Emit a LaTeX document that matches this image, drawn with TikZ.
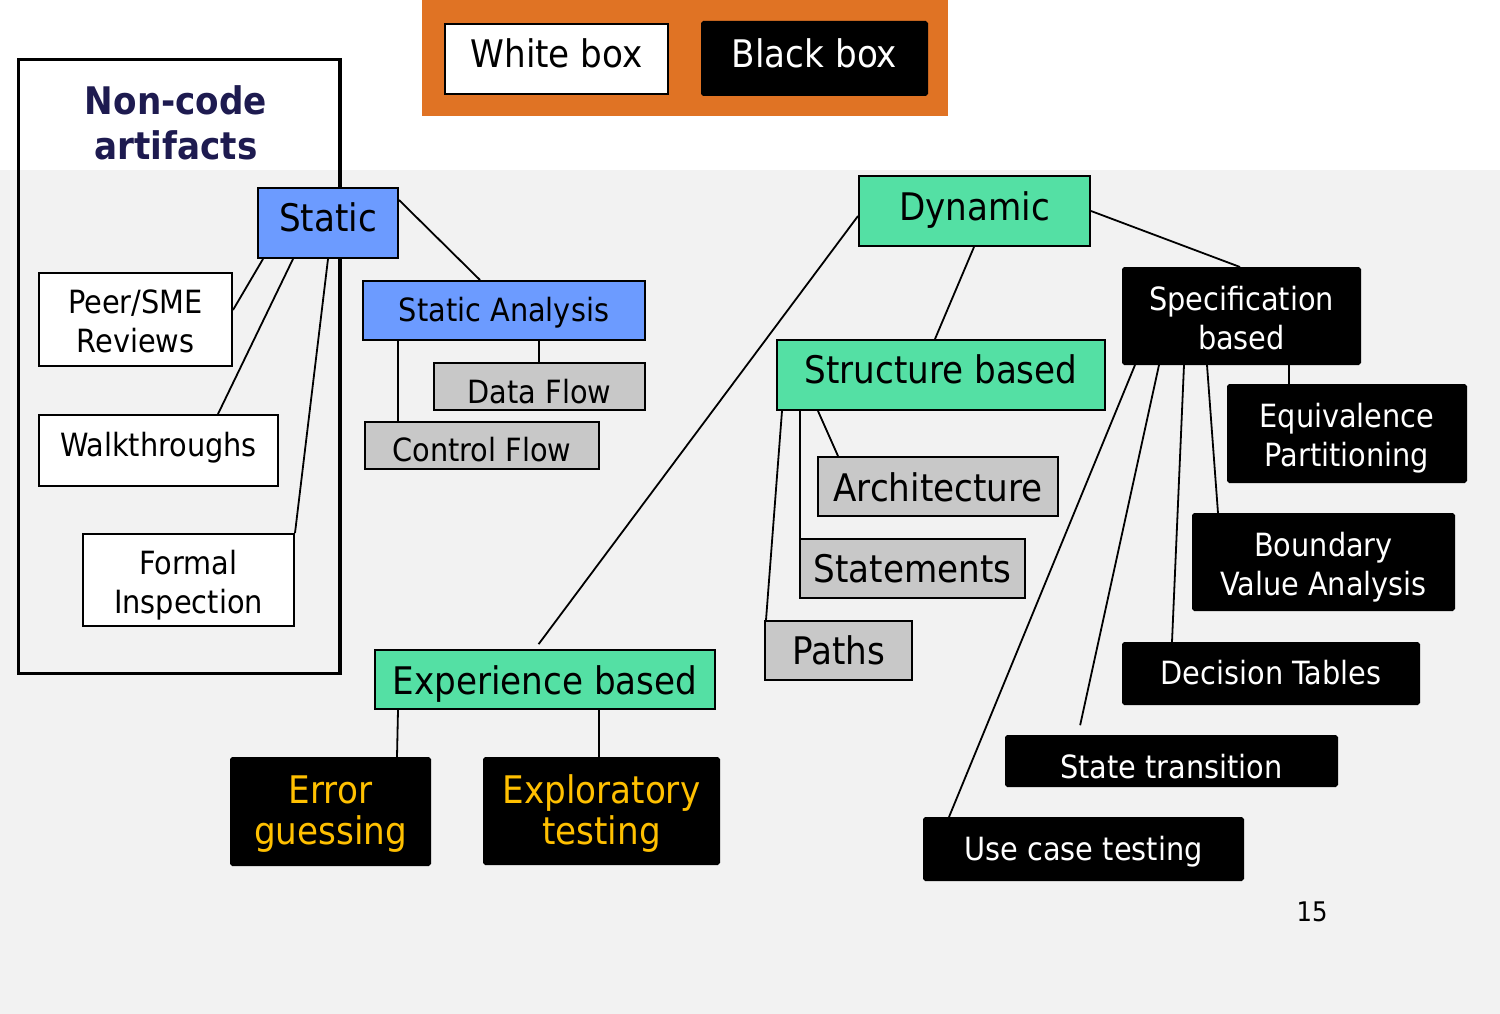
\documentclass[tikz,border=0pt]{standalone}
\usepackage{fontspec}
\setmainfont{DejaVu Sans Condensed}
\usepackage{tikz}
\usetikzlibrary{calc}
\definecolor{orng}{RGB}{224,115,36}
\definecolor{statblue}{RGB}{108,155,255}
\definecolor{dyngreen}{RGB}{84,224,164}
\definecolor{boxgray}{RGB}{200,200,200}
\definecolor{bggray}{RGB}{242,242,242}
\definecolor{navy}{RGB}{30,27,80}
\definecolor{gold}{RGB}{255,192,0}

\begin{document}
\begin{tikzpicture}[x=1pt,y=-1pt,line width=1.8,
  box/.style={draw,line width=2,inner sep=0,align=center},
  blu/.style={box,fill=statblue},
  grn/.style={box,fill=dyngreen},
  gry/.style={box,fill=boxgray},
  wht/.style={box,fill=white},
  blk/.style={box,fill=black,text=white,rounded corners=1.5},
  gld/.style={blk,text=gold},
  big/.style={font=\fontsize{38}{45}\selectfont},
  sml/.style={font=\fontsize{32}{39}\selectfont},
  tht/.style={text height=#1,text depth=0},
  stwo/.style={text height=66,text depth=0},
  btwo/.style={font=\fontsize{38}{41}\selectfont,text height=66,text depth=0}]
  \useasboundingbox (0,0) rectangle (1500,1014);
  \fill[white] (0,0) rectangle (1500,1014);
  \fill[bggray] (0,170) rectangle (1500,1014);
  \fill[orng] (422,0) rectangle (948,116);
  \draw[line width=3.5] (18.5,59.5) rectangle (340,673.5);
  \node[wht,big,tht=17.7,minimum width=223,minimum height=70] (0) at (556.5,59) {White box};
  \node[blk,big,tht=17.7,minimum width=225,minimum height=73] (1) at (814.5,58.5) {Black box};
  \node[text=navy,align=center,font=\fontsize{38}{45}\selectfont\bfseries] (23) at (176,123) {Non-code\\artifacts};
  \node[blu,big,tht=17.7,minimum width=140,minimum height=70] (2) at (328,223) {Static};
  \node[wht,sml,stwo,minimum width=193,minimum height=93] (3) at (135.5,319.5) {Peer/SME\\Reviews};
  \node[wht,sml,tht=12.3,minimum width=239,minimum height=71] (4) at (158.5,450.5) {Walkthroughs};
  \node[wht,sml,stwo,minimum width=211,minimum height=92] (5) at (188.5,580) {Formal\\Inspection};
  \node[blu,sml,tht=21.3,minimum width=282,minimum height=59] (6) at (504,310.5) {Static Analysis};
  \node[gry,sml,tht=33.3,minimum width=211,minimum height=47] (7) at (539.5,386.5) {Data Flow};
  \node[gry,sml,tht=31.3,minimum width=234,minimum height=47] (8) at (482,445.5) {Control Flow};
  \node[grn,big,tht=19.7,minimum width=231,minimum height=70] (9) at (974.5,211) {Dynamic};
  \node[grn,big,tht=17.7,minimum width=328,minimum height=70] (10) at (941,375) {Structure based};
  \node[gry,big,tht=29.7,minimum width=240,minimum height=59] (11) at (938,486.5) {Architecture};
  \node[gry,big,tht=27.7,minimum width=225,minimum height=59] (12) at (912.5,568.5) {Statements};
  \node[gry,big,tht=27.7,minimum width=147,minimum height=59] (13) at (838.5,650.5) {Paths};
  \node[blk,sml,stwo,minimum width=237,minimum height=96] (14) at (1241.5,316) {Specification\\based};
  \node[blk,sml,stwo,minimum width=238,minimum height=97] (15) at (1347,433.5) {Equivalence\\Partitioning};
  \node[blk,sml,stwo,minimum width=261,minimum height=96] (16) at (1323.5,562) {Boundary\\Value Analysis};
  \node[blk,sml,tht=22,minimum width=296,minimum height=61] (17) at (1271,673.5) {Decision Tables};
  \node[blk,sml,tht=34.3,minimum width=331,minimum height=50] (18) at (1171.5,761) {State transition};
  \node[blk,sml,tht=22,minimum width=319,minimum height=62] (19) at (1083.5,849) {Use case testing};
  \node[grn,big,tht=29.7,minimum width=340,minimum height=59] (20) at (545,679.5) {Experience based};
  \node[gld,btwo,minimum width=199,minimum height=107] (21) at (330.5,811.5) {Error\\guessing};
  \node[gld,btwo,minimum width=235,minimum height=106] (22) at (601.5,811) {Exploratory\\testing};
  \node[font=\fontsize{27}{32}\selectfont] (24) at (1312,912) {15};
  \draw (2.east |- 0,200) -- (480,0 |- 6.north);
  \draw (263,0 |- 2.south) -- (3.east |- 0,310);
  \draw (293,0 |- 2.south) -- (218,0 |- 4.north);
  \draw (328,0 |- 2.south) -- (5.north east);
  \draw (398,0 |- 6.south) -- (398,0 |- 8.north);
  \draw (539,0 |- 6.south) -- (539,0 |- 7.north);
  \draw[shorten >=6] (9.west |- 0,216) -- (535,0 |- 20.north);
  \draw (974,0 |- 9.south) -- (935,0 |- 10.north);
  \draw (9.east |- 0,211) -- (1240,0 |- 14.north);
  \draw (818,0 |- 10.south) -- (838,0 |- 11.north);
  \draw (800,0 |- 10.south) -- (800,0 |- 12.north);
  \draw (782,0 |- 10.south) -- (766,0 |- 13.north);
  \draw (1289,0 |- 14.south) -- (1289,0 |- 15.north);
  \draw (1207,0 |- 14.south) -- (1218,0 |- 16.north);
  \draw (1184,0 |- 14.south) -- (1172,0 |- 17.north);
  \draw[shorten >=10] (1159,0 |- 14.south) -- (1078,0 |- 18.north);
  \draw (1135,0 |- 14.south) -- (949,0 |- 19.north);
  \draw (398,0 |- 20.south) -- (397,0 |- 21.north);
  \draw (599,0 |- 20.south) -- (599,0 |- 22.north);
\end{tikzpicture}
\end{document}
